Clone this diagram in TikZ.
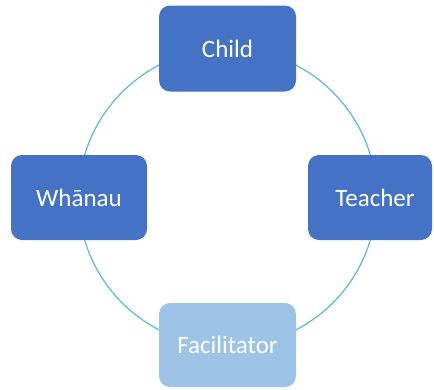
\documentclass[tikz,border=0pt]{standalone}
\usepackage{fontspec}
\setmainfont{Carlito}
\definecolor{darkbox}{HTML}{4472C4}
\definecolor{lightbox}{HTML}{9DC3E6}
\definecolor{ring}{HTML}{5BB5DD}
\begin{document}
\begin{tikzpicture}[x=1pt,y=-1pt,
  box/.style={rectangle, rounded corners=11pt, draw=none, fill=darkbox, text=white,
    font=\fontsize{25}{30}\selectfont, inner sep=0pt, minimum width=137pt, minimum height=86pt},
  lbox/.style={box, fill=lightbox}]
\useasboundingbox (0,0) rectangle (434,389);
\coordinate (c) at (227.5,197.5);
\draw[ring, line width=1.2pt] (c) circle (149pt);
\node[box] (child) at (227.5,48.5) {Child};
\node[box, minimum width=136pt, minimum height=85pt] (whanau) at (79,197.5) {Whānau};
\node[lbox, minimum height=84pt] (fac) at (227.5,345) {Facilitator};
\node[box, minimum width=124pt, minimum height=85pt] (teacher) at (370,197.5) {\hspace*{10pt}Teacher};
\end{tikzpicture}
\end{document}
